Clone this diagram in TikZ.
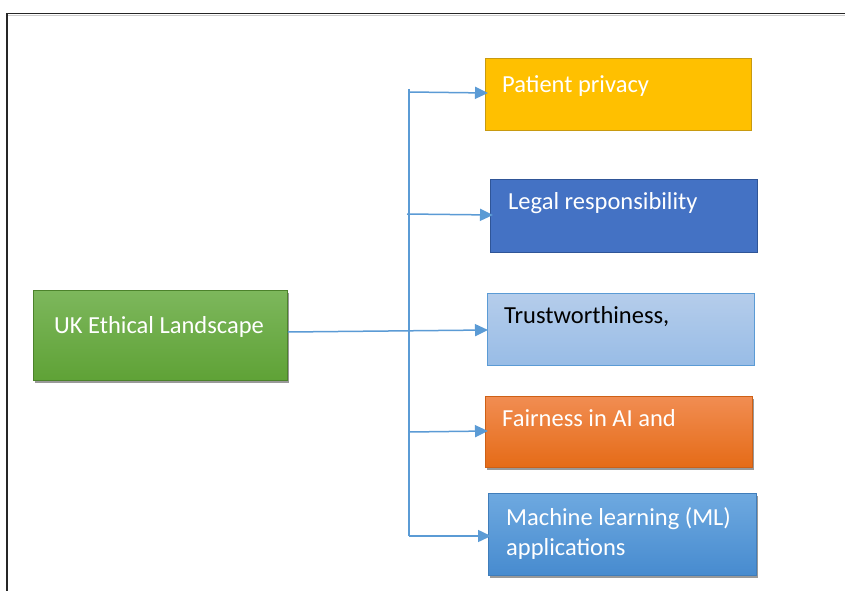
\documentclass[tikz,border=0pt]{standalone}
\usepackage{fontspec}
\setmainfont{Carlito}
\usetikzlibrary{arrows.meta,shadows,positioning}
\definecolor{arrblue}{HTML}{5B9BD5}
\definecolor{gold}{HTML}{FFC000}
\definecolor{golddk}{HTML}{C89A10}
\definecolor{legal}{HTML}{4472C4}
\definecolor{legaldk}{HTML}{2F5597}
\definecolor{trustA}{HTML}{B5CDEB}
\definecolor{trustB}{HTML}{98BCE6}
\definecolor{orA}{HTML}{F18D52}
\definecolor{orB}{HTML}{E56B17}
\definecolor{mlA}{HTML}{6EA9E0}
\definecolor{mlB}{HTML}{478BCF}
\definecolor{grA}{HTML}{7DB75C}
\definecolor{grB}{HTML}{5FA236}
\tikzset{
  box/.style={draw, line width=0.8pt, anchor=north west, inner sep=0pt},
  shad/.style={drop shadow={shadow xshift=1.5pt, shadow yshift=-3pt, opacity=0.4, fill=black}},
  lbl/.style={anchor=west, inner sep=0pt, font=\fontsize{24.5}{30}\selectfont, align=left, text=white},
  arr/.style={draw=arrblue, line width=1.5pt, -{Triangle[length=13pt,width=12pt]}},
  ln/.style={draw=arrblue, line width=1.5pt},
}
\begin{document}
\begin{tikzpicture}[x=1pt,y=-1pt]
\useasboundingbox (0,0) rectangle (845,591);
\fill[white] (0,0) rectangle (845,591);
% frame
\draw[line width=1.4pt, black!85] (7,13.5) -- (845,13.5);
\draw[line width=1.4pt, black!85] (7,13.5) -- (7,591);
\draw[line width=0.8pt, black!20] (8,15.5) -- (845,15.5);

% boxes
\node[box, shad, draw=grB!80!black, top color=grA, bottom color=grB, minimum width=254pt, minimum height=90pt] (uk) at (33,290) {};
\node[box, draw=golddk, fill=gold, minimum width=266pt, minimum height=72pt] (pp) at (485,58) {};
\node[box, draw=legaldk, fill=legal, minimum width=267pt, minimum height=73pt] (lr) at (490,179) {};
\node[box, draw=arrblue, top color=trustA, bottom color=trustB, minimum width=267pt, minimum height=72pt] (tw) at (487,293) {};
\node[box, shad, draw=orB!90!black, top color=orA, bottom color=orB, minimum width=267pt, minimum height=71pt] (fa) at (485,396) {};
\node[box, shad, draw=mlB!90!black, top color=mlA, bottom color=mlB, minimum width=268pt, minimum height=82pt] (ml) at (488,493) {};

% labels
\node[lbl] (tuk) at (54,327) {UK Ethical Landscape};
\node[lbl] (tpp) at (502,86) {Patient privacy};
\node[lbl] (tlr) at (508,203) {Legal responsibility};
\node[lbl, text=black] (ttw) at (504,317) {Trustworthiness,};
\node[lbl] (tfa) at (502,418) {Fairness in AI and};
\node[lbl, align=left] (tml) at (506,534) {Machine learning (ML)\\applications};

% connectors
\coordinate (b1) at (409,92);
\coordinate (b2) at (407,214);
\coordinate (b4) at (409,432);
\coordinate (b5) at (409,536);
\coordinate (top) at (409,89);
\draw[ln] (top) -- (b5);
\draw[arr] (b1) -- ([xshift=3pt]pp.west |- 0,93);
\draw[arr] (b2) -- ([xshift=3pt]lr.west |- 0,215);
\draw[arr] (uk.east |- 0,332) -- ([xshift=1pt]tw.west |- 0,330);
\draw[arr] (b4) -- ([xshift=3pt]fa.west |- 0,431);
\draw[arr] (b5) -- ([xshift=3pt]ml.west |- 0,536);
\end{tikzpicture}
\end{document}
